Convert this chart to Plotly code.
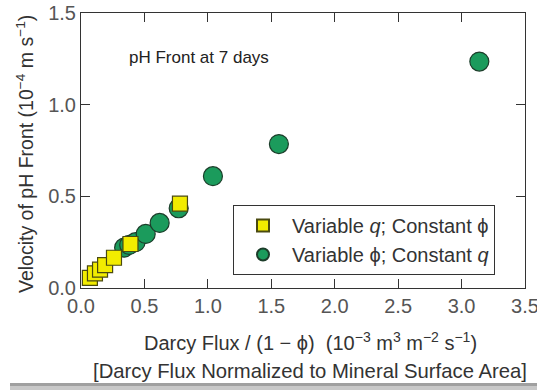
import plotly.graph_objects as go

# Data
sq_x = [0.07, 0.11, 0.15, 0.19, 0.26, 0.39, 0.78]
sq_y = [0.055, 0.08, 0.10, 0.125, 0.165, 0.24, 0.46]
ci_x = [0.34, 0.38, 0.43, 0.51, 0.62, 0.77, 1.04, 1.56, 3.14]
ci_y = [0.22, 0.235, 0.25, 0.295, 0.355, 0.435, 0.61, 0.785, 1.235]

x_ticks = [0.0, 0.5, 1.0, 1.5, 2.0, 2.5, 3.0, 3.5]
y_ticks = [0.0, 0.5, 1.0, 1.5]

FONT = "Liberation Sans, Arial, sans-serif"

# pixel -> paper helpers (plot area: x 81..525, y 13..288)
def px(x):
    return (x - 81) / 444.0

def py(y):
    return (288 - y) / 275.0

fig = go.Figure()
fig.add_trace(go.Scatter(
    x=ci_x, y=ci_y, mode="markers",
    name="Variable ϕ; Constant <i>q</i>",
    marker=dict(symbol="circle", size=19, color="#1b9b5c",
                line=dict(color="#1c3d2a", width=1.2)),
))
fig.add_trace(go.Scatter(
    x=sq_x, y=sq_y, mode="markers",
    name="Variable <i>q</i>; Constant ϕ",
    marker=dict(symbol="square", size=15, color="#f2ec00",
                line=dict(color="#4a4a10", width=1.2)),
))

axis_common = dict(
    showline=True, linecolor="#333333", linewidth=1, mirror="ticks",
    ticks="inside", ticklen=9, tickcolor="#333333", tickwidth=1,
    showgrid=False, zeroline=False, automargin=False,
    ticklabeloverflow="allow",
    tickfont=dict(family=FONT, size=20, color="#555555"),
)

fig.update_xaxes(range=[0, 3.5], tickvals=x_ticks,
                 ticktext=[f"{v:.1f}" for v in x_ticks], **axis_common)
fig.update_yaxes(range=[0, 1.5], tickvals=y_ticks,
                 ticktext=[f"{v:.1f}" for v in y_ticks], **axis_common)

fig.add_annotation(text="pH Front at 7 days", x=px(127), y=py(57), xref="paper", yref="paper",
                   xanchor="left", yanchor="middle", showarrow=False,
                   font=dict(family=FONT, size=17, color="#222222"))
fig.add_annotation(text="Darcy Flux / (1 − ϕ)  (10<sup>−3</sup> m<sup>3</sup> m<sup>−2</sup> s<sup>−1</sup>)",
                   x=px(310), y=py(341), xref="paper", yref="paper",
                   xanchor="center", yanchor="middle", showarrow=False,
                   font=dict(family=FONT, size=20, color="#333333"))
fig.add_annotation(text="[Darcy Flux Normalized to Mineral Surface Area]",
                   x=px(310), y=py(371), xref="paper", yref="paper",
                   xanchor="center", yanchor="middle", showarrow=False,
                   font=dict(family=FONT, size=20.3, color="#333333"))
fig.add_annotation(text="Velocity of pH Front (10<sup>−4</sup> m s<sup>−1</sup>)",
                   x=px(25), y=py(154), xref="paper", yref="paper", textangle=-90,
                   xanchor="center", yanchor="middle", showarrow=False,
                   font=dict(family=FONT, size=19.5, color="#333333"))

# drop shadow of the original figure frame
fig.add_shape(type="rect", xref="paper", yref="paper",
              x0=px(10), x1=px(537), y0=py(386), y1=py(390),
              line=dict(width=0), fillcolor="#c8c8c8", layer="below")
fig.add_shape(type="rect", xref="paper", yref="paper",
              x0=px(10), x1=px(537), y0=py(383), y1=py(386),
              line=dict(width=0), fillcolor="#a0a0a0", layer="below")

fig.update_layout(
    width=537, height=390,
    margin=dict(l=81, r=12, t=13, b=102),
    paper_bgcolor="white", plot_bgcolor="white",
    showlegend=True,
    legend=dict(x=px(233), y=py(205), xanchor="left", yanchor="top",
                bordercolor="#333333", borderwidth=1, bgcolor="white",
                traceorder="reversed", tracegroupgap=0, itemwidth=48,
                font=dict(family=FONT, size=20, color="#333333"),
                itemsizing="constant"),
)

fig.write_html("out.html")
